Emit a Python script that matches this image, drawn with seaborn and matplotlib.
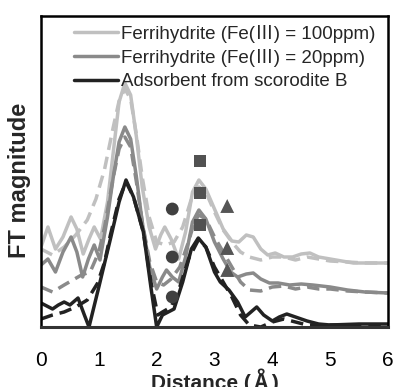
import numpy as np
import pandas as pd
import matplotlib
matplotlib.use("Agg")
import matplotlib.pyplot as plt
from matplotlib import font_manager as fm, ft2font
import seaborn as sns

# ---------------- data (magnitude in arbitrary units) -------------
exp100_d = [0, 0.12, 0.25, 0.38, 0.52, 0.62, 0.73, 0.83, 0.92, 1.03, 1.15, 1.25, 1.35, 1.45,
            1.55, 1.65, 1.75, 1.87, 1.98, 2.07, 2.14, 2.25, 2.38, 2.5, 2.62, 2.73, 2.85, 3.0,
            3.15, 3.3, 3.42, 3.55, 3.67, 3.8, 3.92, 4.05, 4.2, 4.35, 4.5, 4.65, 4.8, 5.0,
            5.2, 5.4, 5.7, 6.0]
exp100_m = [0.80, 1.00, 0.78, 0.90, 1.10, 0.98, 0.73, 0.88, 1.00, 0.88, 1.25, 1.75, 2.25, 2.44,
            2.32, 1.90, 1.40, 1.00, 0.78, 0.92, 1.00, 0.88, 0.68, 0.95, 1.35, 1.47, 1.38, 1.18,
            0.98, 0.86, 0.85, 0.92, 0.90, 0.78, 0.72, 0.74, 0.70, 0.70, 0.73, 0.74, 0.70, 0.68,
            0.66, 0.64, 0.64, 0.64]

fit100_d = [0, 0.2, 0.4, 0.6, 0.8, 0.95, 1.1, 1.25, 1.35, 1.45, 1.55, 1.65, 1.75, 1.87, 2.0,
            2.15, 2.3, 2.45, 2.6, 2.73, 2.85, 3.0, 3.15, 3.3, 3.45, 3.6, 3.8, 4.0, 4.2, 4.4,
            4.6, 4.8, 5.0, 5.3, 5.6, 6.0]
fit100_m = [0.78, 0.72, 0.80, 0.92, 1.07, 1.28, 1.58, 2.00, 2.26, 2.38, 2.28, 1.92, 1.50, 1.10,
            0.85, 0.82, 0.85, 1.00, 1.28, 1.40, 1.35, 1.15, 0.97, 0.85, 0.75, 0.70, 0.67, 0.70,
            0.70, 0.67, 0.70, 0.68, 0.66, 0.65, 0.64, 0.64]

exp20_d = [0, 0.12, 0.25, 0.38, 0.52, 0.62, 0.72, 0.82, 0.92, 1.02, 1.15, 1.25, 1.35, 1.45,
           1.55, 1.65, 1.75, 1.88, 2.0, 2.1, 2.17, 2.27, 2.38, 2.5, 2.62, 2.73, 2.85, 3.0,
           3.15, 3.28, 3.4, 3.55, 3.67, 3.8, 3.95, 4.1, 4.3, 4.5, 4.7, 5.0, 5.3, 5.6, 6.0]
exp20_m = [0.62, 0.68, 0.55, 0.75, 0.90, 0.75, 0.50, 0.68, 0.82, 0.67, 1.10, 1.50, 1.85, 2.00,
           1.88, 1.50, 1.05, 0.60, 0.38, 0.50, 0.57, 0.50, 0.45, 0.70, 1.05, 1.17, 1.08, 0.85,
           0.68, 0.55, 0.50, 0.53, 0.54, 0.48, 0.44, 0.44, 0.42, 0.43, 0.42, 0.40, 0.37, 0.35,
           0.34]

fit20_d = [0, 0.2, 0.4, 0.55, 0.7, 0.85, 1.0, 1.1, 1.25, 1.35, 1.45, 1.55, 1.65, 1.75, 1.88,
           2.0, 2.12, 2.25, 2.4, 2.55, 2.65, 2.73, 2.85, 3.0, 3.15, 3.3, 3.45, 3.6, 3.8, 4.0,
           4.2, 4.4, 4.6, 4.8, 5.0, 5.3, 5.6, 6.0]
fit20_m = [0.40, 0.35, 0.42, 0.47, 0.52, 0.55, 0.75, 1.00, 1.50, 1.78, 1.90, 1.80, 1.45, 1.05,
           0.65, 0.45, 0.42, 0.48, 0.60, 0.85, 1.05, 1.12, 1.08, 0.90, 0.75, 0.60, 0.45, 0.37,
           0.36, 0.40, 0.41, 0.38, 0.40, 0.38, 0.38, 0.36, 0.35, 0.34]

expB_d = [0, 0.1, 0.2, 0.3, 0.4, 0.5, 0.64, 0.75, 0.83, 1.0, 1.2, 1.35, 1.47, 1.6, 1.77, 1.9,
          2.0, 2.1, 2.2, 2.3, 2.45, 2.6, 2.72, 2.85, 3.0, 3.1, 3.25, 3.4, 3.53, 3.63, 3.73,
          3.85, 4.0, 4.12, 4.25, 4.4, 4.6, 4.8, 5.0, 5.5, 6.0]
expB_m = [0.24, 0.21, 0.18, 0.22, 0.25, 0.22, 0.29, 0.12, 0.00, 0.40, 0.88, 1.25, 1.47, 1.30,
          0.95, 0.40, 0.00, 0.12, 0.15, 0.18, 0.45, 0.78, 0.89, 0.80, 0.55, 0.45, 0.37, 0.25,
          0.10, 0.15, 0.20, 0.12, 0.06, 0.10, 0.13, 0.10, 0.06, 0.03, 0.02, 0.03, 0.03]

fitB_d = [0, 0.2, 0.4, 0.6, 0.8, 0.98, 1.1, 1.2, 1.35, 1.47, 1.6, 1.77, 1.9, 2.02, 2.1, 2.25,
          2.4, 2.55, 2.72, 2.85, 3.0, 3.15, 3.3, 3.45, 3.6, 3.8, 4.0, 4.2, 4.4, 4.6, 5.0, 6.0]
fitB_m = [0.08, 0.12, 0.15, 0.20, 0.27, 0.44, 0.65, 0.92, 1.28, 1.45, 1.30, 0.95, 0.45, 0.12,
          0.15, 0.20, 0.40, 0.68, 0.87, 0.80, 0.60, 0.45, 0.30, 0.12, 0.02, 0.00, 0.05, 0.08,
          0.05, 0.02, 0.02, 0.02]

circle_d = [2.27, 2.27, 2.27]
circle_m = [1.18, 0.70, 0.30]
square_d = [2.75, 2.75, 2.75]
square_m = [1.66, 1.34, 1.02]
triangle_d = [3.22, 3.22, 3.22]
triangle_m = [1.21, 0.79, 0.57]

labels = ["Ferrihydrite (Fe(\u2162) = 100ppm)",
          "Ferrihydrite (Fe(\u2162) = 20ppm)",
          "Adsorbent from scorodite B"]
xticks = [0, 1, 2, 3, 4, 5, 6]
xlabel = "Distance (\u212B)"
ylabel = "FT magnitude"


# ---------------- fonts -----------------
def _has_glyph(family, ch):
    try:
        path = fm.findfont(fm.FontProperties(family=family), fallback_to_default=False)
        return ft2font.FT2Font(path).get_char_index(ord(ch)) != 0
    except Exception:
        return None


# pick an Arial-like family that lacks the Roman numeral / Angstrom sign, so those
# characters fall back to the (full-width) CJK glyphs as in the reference
MIXED = "Liberation Sans"
for fam in ["Liberation Sans", "Roboto", "Open Sans", "Lato", "Inter", "Noto Sans"]:
    a, b = _has_glyph(fam, "\u2162"), _has_glyph(fam, "\u212B")
    if a is False and b is False:
        MIXED = fam
        break
MIXED_LIST = [MIXED, "Noto Sans CJK JP", "DejaVu Sans"]

sns.set_theme(style="white")
plt.rcParams['font.family'] = ['Liberation Sans', 'Noto Sans CJK JP', 'DejaVu Sans']

LIGHT, MID, DARK = "#c0c0c0", "#8a8a8a", "#222222"
LW = 2.5
DASH = (0, (3.6, 2.0))

fig = plt.figure(figsize=(3.93, 3.87), dpi=100)
ax = fig.add_axes([41 / 393, 60 / 387, 347 / 393, 311 / 387])

series = [
    (exp100_d, exp100_m, LIGHT, "-", labels[0]),
    (fit100_d, fit100_m, LIGHT, DASH, None),
    (exp20_d, exp20_m, MID, "-", labels[1]),
    (fit20_d, fit20_m, MID, DASH, None),
    (expB_d, expB_m, DARK, "-", labels[2]),
    (fitB_d, fitB_m, DARK, DASH, None),
]
handles = []
for d, m, c, ls, lab in series:
    sns.lineplot(x=d, y=m, ax=ax, color=c, lw=LW, linestyle=ls, estimator=None,
                 sort=False, legend=False)
    if lab is not None:
        handles.append(ax.lines[-1])

sns.scatterplot(x=circle_d, y=circle_m, ax=ax, marker="o", s=85, color="#404040",
                edgecolor="none", legend=False, zorder=5)
sns.scatterplot(x=square_d, y=square_m, ax=ax, marker="s", s=70, color="#525252",
                edgecolor="none", legend=False, zorder=5)
sns.scatterplot(x=triangle_d, y=triangle_m, ax=ax, marker="^", s=100, color="#555555",
                edgecolor="none", legend=False, zorder=5)

ax.set_xlim(0, 6)
ax.set_ylim(0, 3.11)
ax.set_xticks(xticks)
ax.set_xticklabels([str(t) for t in xticks])
ax.set_yticks([])
ax.tick_params(axis="x", length=0, pad=17, labelsize=15, colors="black")

for sp in ax.spines.values():
    sp.set_visible(True)
    sp.set_color("black")
    sp.set_linewidth(1.8)
ax.spines["bottom"].set_color("#333333")
ax.spines["bottom"].set_linewidth(2.2)

ax.set_xlabel(xlabel, fontsize=15, fontweight="bold", labelpad=-1, family=MIXED_LIST)
ax.set_ylabel(ylabel, fontsize=17, fontweight="bold")
ax.yaxis.set_label_coords(-0.03, 0.47)

leg = ax.legend(handles, labels, loc="upper left", bbox_to_anchor=(0.095, 0.972),
                frameon=False, handlelength=2.35, handletextpad=0.15,
                labelspacing=0.33, borderpad=0.0, borderaxespad=0.0,
                prop=fm.FontProperties(family=MIXED_LIST, size=13.5))

fig.savefig("out.png", dpi=100)
